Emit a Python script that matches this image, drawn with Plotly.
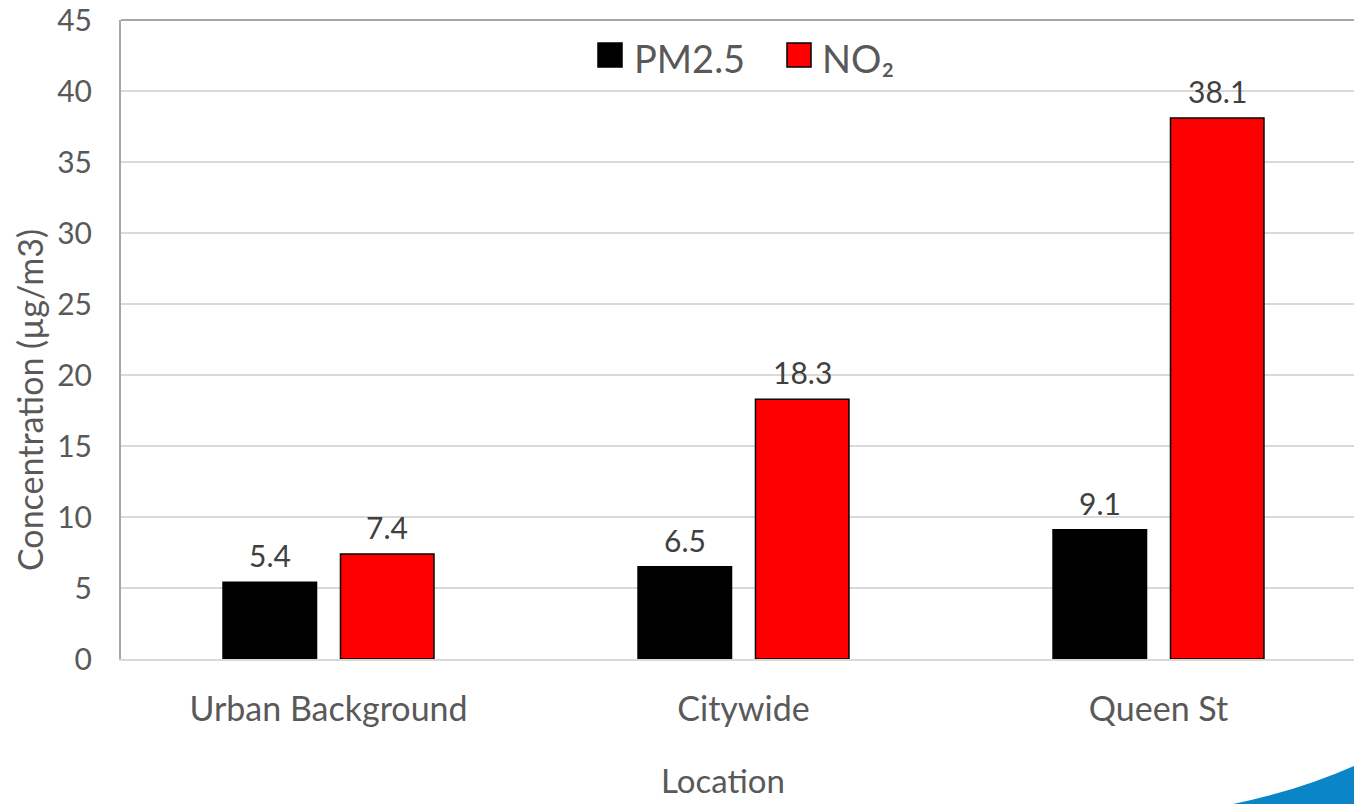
import plotly.graph_objects as go

# Annual mean concentrations by monitoring location
locations = ["Urban Background", "Citywide", "Queen St"]
pm25 = [5.4, 6.5, 9.1]
no2 = [7.4, 18.3, 38.1]
series_names = ["PM2.5", "NO₂"]
series_colors = ["#000000", "#ff0000"]

FONT = "Lato"
GREY = "#595959"
LABEL = "#404040"

W, H = 1354, 804
ML, MR, MT, MB = 121, 0, 20, 145
PW, PH = W - ML - MR, H - MT - MB

# category slot width in px (3 categories, right part of the plot clipped)
CAT_PX = 415.0
x_end = -0.5 + PW / CAT_PX
SLOT = 117.5  # px per bar slot inside a group

fig = go.Figure()
for name, vals, col in zip(series_names, [pm25, no2], series_colors):
    fig.add_trace(go.Bar(
        name=name, x=locations, y=vals,
        marker=dict(color=col, line=dict(color="#000000", width=1.5)),
        showlegend=False,
    ))

# value labels above each bar
annotations = []
for i, vals in enumerate([pm25, no2]):
    shift = (i - 0.5) * SLOT
    for j, v in enumerate(vals):
        annotations.append(dict(
            x=j, y=v, xref="x", yref="y", text=f"{v:.1f}", showarrow=False,
            xshift=shift, yshift=27, font=dict(family=FONT, size=30, color=LABEL),
        ))


def px2paper(px, py):
    return (px - ML) / PW, (MT + PH - py) / PH


# legend: squares and names across the top of the plot
shapes = []
legend_items = [(598, 632), (787, 820)]
for (sq_x, tx), name, col in zip(legend_items, series_names, series_colors):
    x0, y0 = px2paper(sq_x, 67)
    x1, y1 = px2paper(sq_x + 24, 43)
    shapes.append(dict(type="rect", xref="paper", yref="paper", x0=x0, y0=y0, x1=x1, y1=y1,
                       fillcolor=col, line=dict(color="#000000", width=1.5)))
    ax, ay = px2paper(tx, 58)
    annotations.append(dict(x=ax, y=ay, xref="paper", yref="paper", text=name,
                            showarrow=False, xanchor="left", yanchor="middle",
                            font=dict(family=FONT, size=38, color=GREY)))

# axis titles
tx, ty = px2paper(30, 400)
annotations.append(dict(x=tx, y=ty, xref="paper", yref="paper", text="Concentration (µg/m3)",
                        showarrow=False, textangle=-90, xanchor="center", yanchor="middle",
                        font=dict(family=FONT, size=34, color=GREY)))
tx, ty = px2paper(723, 780)
annotations.append(dict(x=tx, y=ty, xref="paper", yref="paper", text="Location",
                        showarrow=False, xanchor="center", yanchor="middle",
                        font=dict(family=FONT, size=33, color=GREY)))

# top border of the plot area
shapes.append(dict(type="line", xref="paper", yref="paper", x0=0, x1=1, y0=1, y1=1,
                   line=dict(color="#a6a6a6", width=2)))

# blue swoosh in the lower right corner
sx0, sy0 = px2paper(1228, 805)
scx, scy = px2paper(1295, 792)
sx1, sy1 = px2paper(1354, 766)
sx2, sy2 = px2paper(1354, 805)
shapes.append(dict(type="path", xref="paper", yref="paper",
                   path=f"M {sx0},{sy0} Q {scx},{scy} {sx1},{sy1} L {sx2},{sy2} Z",
                   fillcolor="#0a86c8", line=dict(width=0)))

fig.update_layout(
    width=W, height=H,
    margin=dict(l=ML, r=MR, t=MT, b=MB, autoexpand=False),
    paper_bgcolor="#ffffff", plot_bgcolor="#ffffff",
    barmode="group", bargap=0.434, bargroupgap=0.204,
    font=dict(family=FONT, color=GREY),
    annotations=annotations, shapes=shapes,
    showlegend=False,
)
fig.update_xaxes(
    range=[-0.5, x_end], showline=True, linecolor="#d9d9d9", linewidth=2,
    showgrid=False, ticks="", tickfont=dict(family=FONT, size=34, color=GREY),
    ticklabelstandoff=19, automargin=False,
)
fig.update_yaxes(
    range=[0, 45], dtick=5, showline=True, linecolor="#a6a6a6", linewidth=2,
    showgrid=True, gridcolor="#d9d9d9", gridwidth=2, zeroline=False,
    ticks="", tickfont=dict(family=FONT, size=30, color=GREY), ticklabelstandoff=21,
    automargin=False,
)

fig.write_html("out.html")
